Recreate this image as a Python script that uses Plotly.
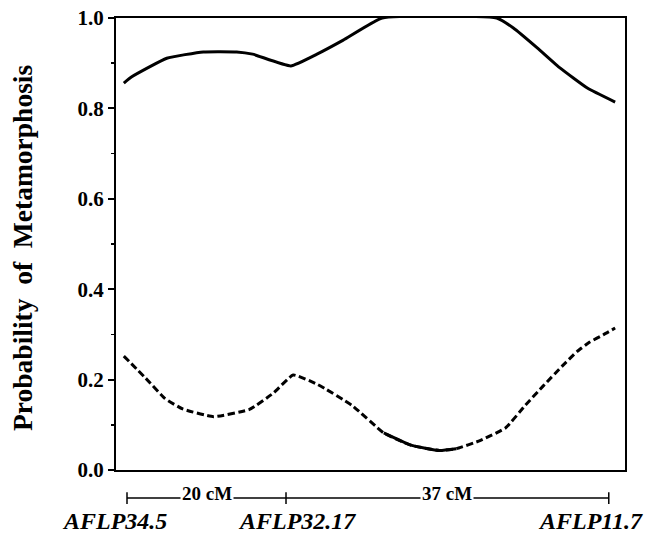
import plotly.graph_objects as go

# Drawn map positions (plot units) of the three markers
marker_names = ["AFLP34.5", "AFLP32.17", "AFLP11.7"]
marker_pos = [0, 20, 60.6]
interval_labels = ["20 cM", "37 cM"]

# Upper (solid) curve
upper_x = [-0.4, 0.6, 5.0, 9.6, 13.8, 15.8, 20.6, 23.9, 27.2, 32.1, 46.5, 48.6, 51.6, 54.5, 57.9, 61.4]
upper_y = [0.856, 0.870, 0.911, 0.925, 0.925, 0.920, 0.894, 0.920, 0.951, 1.0, 1.0, 0.978, 0.934, 0.889, 0.845, 0.814]

# Lower (dashed) curve
lower_x = [-0.4, 2.3, 4.8, 7.0, 10.9, 15.4, 18.4, 20.9, 24.0, 28.3, 32.3, 35.7, 39.3, 41.4,
           44.4, 47.6, 50.1, 52.3, 54.8, 56.6, 58.2, 59.9, 61.4]
lower_y = [0.252, 0.204, 0.158, 0.135, 0.118, 0.134, 0.170, 0.210, 0.189, 0.143, 0.082, 0.055, 0.043, 0.047,
           0.065, 0.093, 0.143, 0.185, 0.231, 0.262, 0.283, 0.299, 0.314]

y_ticks = [0.0, 0.2, 0.4, 0.6, 0.8, 1.0]
y_ticktext = ["0.0", "0.2", "0.4", "0.6", "0.8", "1.0"]

SERIF = "Liberation Serif, Times New Roman, serif"

fig = go.Figure()
fig.add_trace(go.Scatter(x=upper_x, y=upper_y, mode="lines",
                         line=dict(color="black", width=3, shape="spline", smoothing=0.4),
                         showlegend=False, hoverinfo="skip"))
fig.add_trace(go.Scatter(x=lower_x, y=lower_y, mode="lines",
                         line=dict(color="black", width=3, dash="7px,3.5px", shape="spline", smoothing=0.4),
                         showlegend=False, hoverinfo="skip"))
# section of the lower curve printed as a continuous stroke
fig.add_trace(go.Scatter(x=lower_x[10:14], y=lower_y[10:14], mode="lines",
                         line=dict(color="black", width=3, shape="spline", smoothing=0.4),
                         showlegend=False, hoverinfo="skip"))

# Scale bar below the plot
BAR_Y = -0.062
fig.add_shape(type="line", xref="x", yref="paper", x0=marker_pos[0], x1=marker_pos[-1],
              y0=BAR_Y, y1=BAR_Y, line=dict(color="black", width=1.5))
for p in marker_pos:
    fig.add_shape(type="line", xref="x", yref="paper", x0=p, x1=p,
                  y0=BAR_Y + 0.013, y1=BAR_Y - 0.013, line=dict(color="black", width=1.5))

for i, lab in enumerate(interval_labels):
    mid = (marker_pos[i] + marker_pos[i + 1]) / 2
    fig.add_annotation(x=mid, y=BAR_Y, xref="x", yref="paper", text="<b>%s</b>" % lab,
                       showarrow=False, bgcolor="white", borderpad=1, yanchor="middle", yshift=5,
                       font=dict(family=SERIF, size=19, color="black"))

LABEL_SHIFT = [-13, 11, -18]
for name, p, s in zip(marker_names, marker_pos, LABEL_SHIFT):
    fig.add_annotation(x=p, y=-0.113, xref="x", yref="paper", text="<b><i>%s</i></b>" % name,
                       showarrow=False, xshift=s, yanchor="middle", xanchor="center",
                       font=dict(family=SERIF, size=24, color="black"))

fig.add_annotation(x=-0.184, y=0.492, xref="paper", yref="paper",
                   text="<b>Probability  of  Metamorphosis</b>", textangle=-90,
                   showarrow=False, xanchor="center", yanchor="middle",
                   font=dict(family=SERIF, size=27.5, color="black"))

fig.update_xaxes(range=[-1.384, 62.64], showgrid=False, zeroline=False, showticklabels=False,
                 ticks="", showline=True, linecolor="black", linewidth=2, mirror=True, automargin=False)
fig.update_yaxes(range=[0, 1], showgrid=False, zeroline=False, tickvals=y_ticks,
                 ticktext=["<b>%s</b>" % t for t in y_ticktext],
                 ticks="outside", ticklen=6, tickwidth=2, tickcolor="black",
                 minor=dict(dtick=0.1, ticks="outside", ticklen=3, tickwidth=1.5, tickcolor="black"),
                 showline=True, linecolor="black", linewidth=2, mirror=True, automargin=False,
                 ticklabeloverflow="allow",
                 tickfont=dict(family=SERIF, size=21, color="black"))
fig.update_layout(width=649, height=533, margin=dict(l=116, r=24, t=18, b=63),
                  plot_bgcolor="white", paper_bgcolor="white", hovermode=False,
                  font=dict(family=SERIF, color="black"))

# remove the default 8px page margin so the figure fills the window exactly
fig.write_html("out.html", config={"displayModeBar": False, "staticPlot": True},
               post_script="document.body.style.margin='0';")
